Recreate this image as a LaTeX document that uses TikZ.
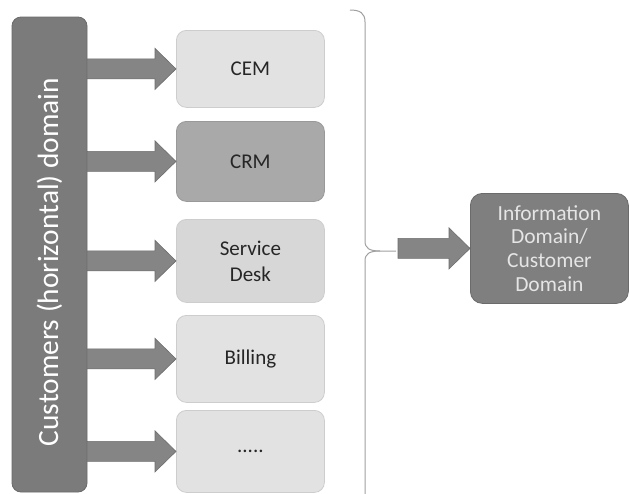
\documentclass[tikz,border=0pt]{standalone}
\usepackage{fontspec}
\setmainfont{Carlito}
\usetikzlibrary{calc}
\definecolor{barfill}{HTML}{7B7B7B}
\definecolor{barline}{HTML}{6A6A6A}
\definecolor{arrfill}{HTML}{858585}
\definecolor{arrline}{HTML}{6E6E6E}
\definecolor{lightbox}{HTML}{E2E2E2}
\definecolor{lightline}{HTML}{CDCDCD}
\definecolor{midbox}{HTML}{A9A9A9}
\definecolor{midline}{HTML}{999999}
\definecolor{infofill}{HTML}{7F7F7F}
\definecolor{infoline}{HTML}{6B6B6B}
\definecolor{bracecol}{HTML}{A0A0A0}
\tikzset{
  sysbox/.style={draw=lightline, fill=lightbox, rounded corners=10pt, line width=0.8pt,
    minimum width=148pt, anchor=north west, inner sep=0pt, align=center,
    text=black!85, font=\fontsize{21}{26}\selectfont},
  blockarr/.style={fill=arrfill, draw=arrline, line width=0.6pt},
}
% block arrow from the right side of #1 to the west anchor of #2
\newcommand\blockarrow[2]{%
  \path let \p1=(#2.west), \p2=(#1.east) in
    [blockarr] (\x2,\y1+10pt) -- (\x1-21pt,\y1+10pt) -- (\x1-21pt,\y1+20.5pt)
    -- (\x1,\y1) -- (\x1-21pt,\y1-20.5pt) -- (\x1-21pt,\y1-10pt) -- (\x2,\y1-10pt) -- cycle;}
\begin{document}
\begin{tikzpicture}[x=1pt,y=-1pt]
\useasboundingbox (0,0) rectangle (629,493);
\clip (0,0) rectangle (629,493);
\fill[white] (0,0) rectangle (629,493);

% vertical customer domain bar
\node[draw=barline, fill=barfill, rounded corners=9pt, line width=0.8pt,
  minimum width=75pt, minimum height=475pt, inner sep=0pt] (bar) at (49.5,254.5) {};
\node[rotate=90, text=white, inner sep=0pt, font=\fontsize{29.4}{35}\selectfont]
  (barlabel) at ($(bar.center)+(0,7.5)$) {Customers (horizontal) domain};

% systems
\node[sysbox, minimum height=77pt] (cem) at (176,30) {CEM};
\node[sysbox, minimum height=80pt, fill=midbox, draw=midline] (crm) at (176,121) {CRM};
\node[sysbox, minimum height=83pt, fill=lightbox!95!black] (sd) at (176,219) {Service\\Desk};
\node[sysbox, minimum height=87pt] (bill) at (176,315) {Billing};
\node[sysbox, minimum height=82pt] (more) at (176,410) {.....};

% arrows from the bar into each system
\blockarrow{bar}{cem}
\blockarrow{bar}{crm}
\blockarrow{bar}{sd}
\blockarrow{bar}{bill}
\blockarrow{bar}{more}

% brace grouping the systems
\draw[bracecol, line width=1pt]
  (350,10) .. controls (360,10) and (365,13) .. (365,22) -- (365,241)
  .. controls (365,248) and (369,251) .. (380,251) -- (396,251);
\draw[bracecol, line width=1pt]
  (365,520) -- (365,261) .. controls (365,254) and (369,251) .. (380,251);
\coordinate (cusp) at (398,251);

% target domain
\node[draw=infoline, fill=infofill, rounded corners=12pt, line width=0.8pt,
  minimum width=158pt, minimum height=110pt, anchor=north west, inner sep=0pt,
  align=center, text=white!90!black, font=\fontsize{21.5}{24}\selectfont] (info) at (470,193)
  {Information\\[-0.5pt]Domain/\\Customer\\Domain};

\path let \p1=(info.west), \p2=(cusp) in
  [blockarr] (\x2,\y1+10pt) -- (\x1-21pt,\y1+10pt) -- (\x1-21pt,\y1+20.5pt)
  -- (\x1,\y1) -- (\x1-21pt,\y1-20.5pt) -- (\x1-21pt,\y1-10pt) -- (\x2,\y1-10pt) -- cycle;
\end{tikzpicture}
\end{document}
